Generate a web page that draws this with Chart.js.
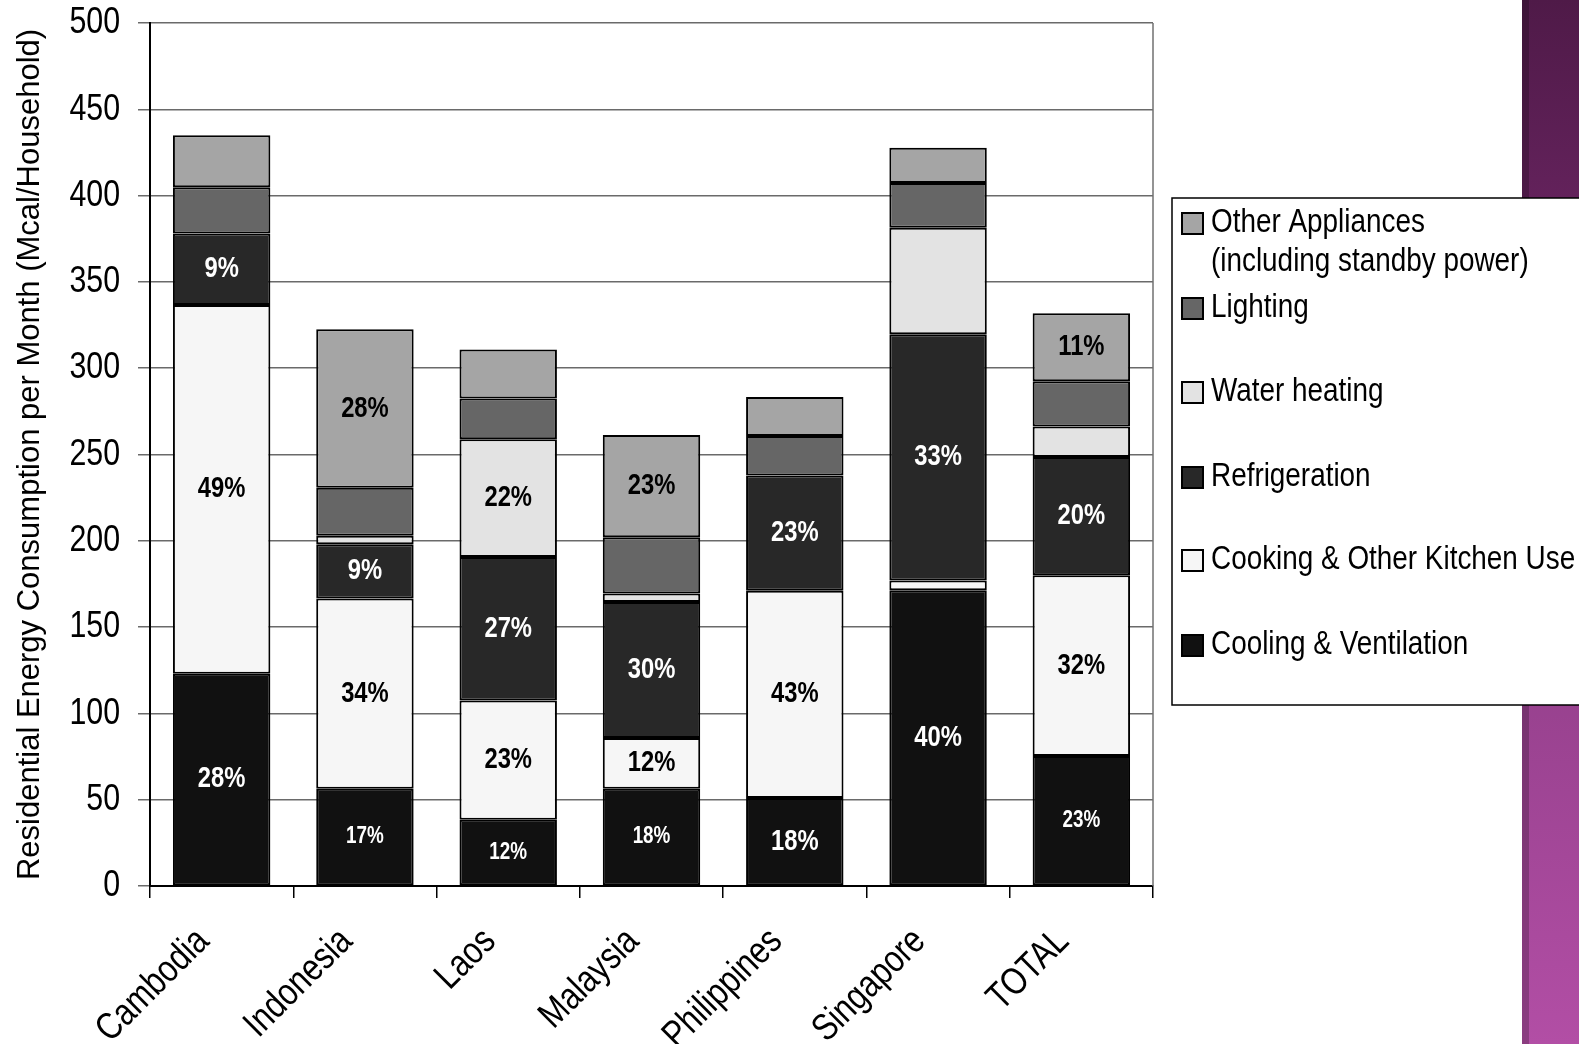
<!DOCTYPE html>
<html><head><meta charset="utf-8">
<script src="https://cdn.jsdelivr.net/npm/chart.js@4.4.0/dist/chart.umd.min.js"></script>
<style>
html,body{margin:0;padding:0;background:#fff;}
#wrap{position:relative;width:1579px;height:1044px;overflow:hidden;background:#fff;}
#strip{position:absolute;left:1522px;top:0;width:57px;height:1044px;background:linear-gradient(to bottom,#4f1a48 0%,#66235e 22%,#8f3d87 55%,#b24ea5 100%);}
#strip:before{content:"";position:absolute;left:0;top:0;width:7px;height:100%;background:rgba(0,0,0,0.22);}
canvas{position:absolute;left:0;top:0;}
</style></head><body>
<div id="wrap"><div id="strip"></div><canvas id="c" width="1579" height="1044" style="width:1579px;height:1044px"></canvas></div>
<script>
const categories = ['Cambodia','Indonesia','Laos','Malaysia','Philippines','Singapore','TOTAL'];
const yTicks = [0,50,100,150,200,250,300,350,400,450,500];
const cooling        = [123, 56.3, 38.4, 56.3, 51, 171.3, 75.3];
const cooking        = [213.6, 110.2, 69.1, 29.4, 120, 5.7, 104.8];
const refrigeration  = [41.4, 31.5, 83.1, 78.8, 66.9, 142.7, 68.5];
const waterHeating   = [null, 4.9, 68.2, 4.9, null, 61.7, 17.6];
const lighting       = [26.8, 27.8, 23.7, 32.6, 22.8, 25.9, 26.3];
const otherAppl      = [30.2, 91.9, 28.4, 59.3, 22.6, 20.4, 39.4];

const coolingLabels  = ['28%','17%','12%','18%','18%','40%','23%'];
const cookingLabels  = ['49%','34%','23%','12%','43%','','32%'];
const refrigLabels   = ['9%','9%','27%','30%','23%','33%','20%'];
const waterLabels    = ['','','22%','','','',''];
const lightingLabels = ['','','','','','',''];
const otherLabels    = ['','28%','','23%','','','11%'];

// Narrow (Arial Narrow-like) rendering: text in the NarrowX family is compressed horizontally.
const SX = 0.82;
const NFONT = "NarrowX,'Liberation Sans',Arial,sans-serif";
const FONT = "'Liberation Sans',Arial,sans-serif";
(function(){
  const P = CanvasRenderingContext2D.prototype;
  const f = P.fillText, m = P.measureText;
  P.fillText = function(t,x,y,w){
    if (this.font.indexOf('NarrowX') < 0) return f.call(this,t,x,y,w);
    this.save(); this.translate(x,y); this.scale(SX,1); f.call(this,t,0,0); this.restore();
  };
  P.measureText = function(t){
    const r = m.call(this,t);
    if (this.font.indexOf('NarrowX') < 0) return r;
    return {width:r.width*SX, actualBoundingBoxAscent:r.actualBoundingBoxAscent, actualBoundingBoxDescent:r.actualBoundingBoxDescent,
      actualBoundingBoxLeft:r.actualBoundingBoxLeft*SX, actualBoundingBoxRight:r.actualBoundingBoxRight*SX,
      fontBoundingBoxAscent:r.fontBoundingBoxAscent, fontBoundingBoxDescent:r.fontBoundingBoxDescent};
  };
})();

const smallLabelSet = {cooling:[1,2,3,6]};

function ds(label, data, color, labels, textColor, key){
  return {label, data, backgroundColor:color, borderColor:'#000', borderWidth:2, borderSkipped:false,
    segLabels:labels, segColor:textColor, segKey:key, stack:'s'};
}

const segLabelPlugin = {
  id:'segLabels',
  afterDatasetsDraw(chart){
    const ctx = chart.ctx;
    chart.data.datasets.forEach((d,i)=>{
      const meta = chart.getDatasetMeta(i);
      meta.data.forEach((bar,j)=>{
        const t = d.segLabels[j];
        if(!t) return;
        const small = (smallLabelSet[d.segKey]||[]).includes(j);
        ctx.save();
        ctx.font = 'bold ' + (small?23:29) + 'px ' + NFONT;
        ctx.fillStyle = d.segColor;
        ctx.textAlign = 'center';
        ctx.textBaseline = 'middle';
        ctx.fillText(t, bar.x, (bar.y + bar.base)/2);
        ctx.restore();
      });
    });
  }
};

const frameLegendPlugin = {
  id:'frameLegend',
  afterDraw(chart){
    const ctx = chart.ctx, a = chart.chartArea;
    ctx.save();
    ctx.strokeStyle = '#707070'; ctx.lineWidth = 1.5;
    ctx.beginPath(); ctx.moveTo(a.right, a.top); ctx.lineTo(a.right, a.bottom); ctx.stroke();
    ctx.fillStyle = '#fff';
    ctx.fillRect(1172, 198, 420, 507);
    ctx.strokeStyle = '#000'; ctx.lineWidth = 1.5;
    ctx.strokeRect(1172, 198, 420, 507);
    const rows = [
      {i:5, y:[223,262], text:['Other Appliances','(including standby power)']},
      {i:4, y:[308], text:['Lighting']},
      {i:3, y:[392], text:['Water heating']},
      {i:2, y:[477], text:['Refrigeration']},
      {i:1, y:[560], text:['Cooking & Other Kitchen Use']},
      {i:0, y:[645], text:['Cooling & Ventilation']}
    ];
    ctx.font = '34px ' + NFONT;
    ctx.textAlign = 'left'; ctx.textBaseline = 'middle';
    rows.forEach(r=>{
      const d = chart.data.datasets[r.i];
      ctx.fillStyle = d.backgroundColor;
      ctx.fillRect(1182, r.y[0]-10, 21, 21);
      ctx.strokeStyle = '#000'; ctx.lineWidth = 2;
      ctx.strokeRect(1182, r.y[0]-10, 21, 21);
      ctx.fillStyle = '#000';
      r.text.forEach((t,k)=>ctx.fillText(t, 1211, r.y[k]));
    });
    ctx.restore();
  }
};

new Chart(document.getElementById('c'), {
  type:'bar',
  data:{
    labels:categories,
    datasets:[
      ds('Cooling & Ventilation', cooling, '#111111', coolingLabels, '#fff', 'cooling'),
      ds('Cooking & Other Kitchen Use', cooking, '#f6f6f6', cookingLabels, '#000', 'cooking'),
      ds('Refrigeration', refrigeration, '#282828', refrigLabels, '#fff', 'refrig'),
      ds('Water heating', waterHeating, '#e3e3e3', waterLabels, '#000', 'water'),
      ds('Lighting', lighting, '#666666', lightingLabels, '#fff', 'lighting'),
      ds('Other Appliances (including standby power)', otherAppl, '#a5a5a5', otherLabels, '#000', 'other')
    ]
  },
  options:{
    responsive:false, animation:false, devicePixelRatio:1,
    layout:{padding:{top:23, right:426, bottom:0, left:0}},
    plugins:{legend:{display:false}, tooltip:{enabled:false}},
    datasets:{bar:{categoryPercentage:1, barPercentage:0.68}},
    scales:{
      x:{stacked:true,
        grid:{display:true, drawOnChartArea:false, drawTicks:true, tickLength:12, color:'#000', lineWidth:1.5, offset:true},
        border:{display:true, color:'#000', width:2},
        ticks:{color:'#000', font:{family:NFONT, size:38}, maxRotation:45, minRotation:45, padding:3,
          callback:function(v,i){ return categories[i] + '   '; }},
        afterFit(s){ s.height = 158; }
      },
      y:{stacked:true, min:0, max:500,
        afterBuildTicks(s){ s.ticks = yTicks.map(v=>({value:v})); },
        grid:{color:'#6a6a6a', lineWidth:1.5, tickLength:12},
        border:{display:true, color:'#000', width:2},
        ticks:{color:'#000', font:{family:NFONT, size:37}, padding:18},
        title:{display:true, text:'Residential Energy Consumption per Month (Mcal/Household)', color:'#000', font:{family:FONT, size:31}, padding:{top:12,bottom:0}},
        afterFit(s){ s.width = 150; s.paddingTop = 0; s.paddingBottom = 0; }
      }
    }
  },
  plugins:[segLabelPlugin, frameLegendPlugin]
});
</script>
</body></html>
